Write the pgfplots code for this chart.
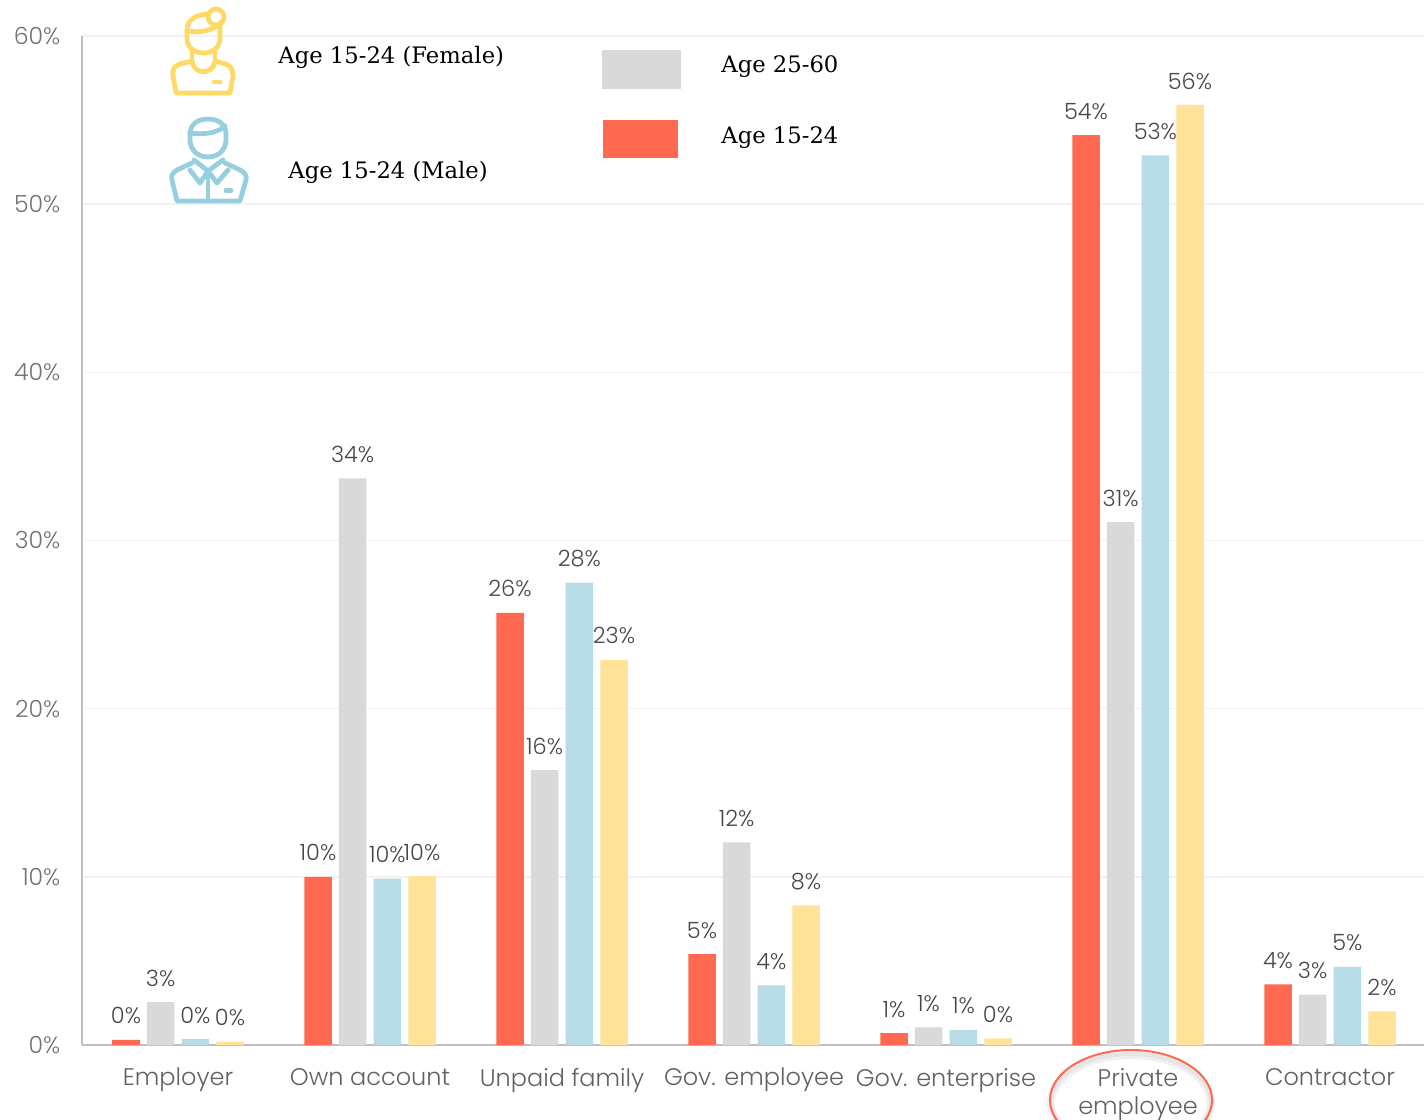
\documentclass[border=0pt]{standalone}
\usepackage{pgfplots}
\pgfplotsset{compat=1.18}
\usepackage{fontspec}
\setmainfont{Poppins}[UprightFont=* Light]
\newfontfamily\legfont{DejaVu Serif}
\definecolor{cred}{HTML}{FF6950}
\definecolor{cgray}{HTML}{D9D9D9}
\definecolor{cblue}{HTML}{B6DCE8}
\definecolor{cyel}{HTML}{FFE399}
\definecolor{iblue}{HTML}{96CFE0}
\definecolor{iyel}{HTML}{FFD966}
\begin{document}
\begin{tikzpicture}
\useasboundingbox (0,0) rectangle (712pt,-559.5pt);
\begin{axis}[
  at={(41pt,-522.5pt)},anchor=south west,
  scale only axis,width=671pt,height=504.5pt,
  xmin=-0.5,xmax=6.4896,ymin=0,ymax=60,
  axis lines=left,axis line style={draw=black!25,line width=1pt,-},
  ymajorgrids,grid style={draw=black!5,line width=0.8pt},
  ytick={0,10,20,30,40,50,60},
  yticklabel={\pgfmathprintnumber[assume math mode=true]{\tick}\%},
  yticklabel style={text=black!55,font=\fontsize{11.8}{12}\selectfont,xshift=-7.3pt},
  xtick={0,1,2,3,4,5,6},
  xticklabels={Employer,Own account,Unpaid family,Gov. employee,Gov. enterprise,Private\\employee,Contractor},
  xticklabel style={text=black!62,font=\fontsize{12}{14}\selectfont,align=center,anchor=north,yshift=-8pt},
  major tick length=0pt,
  ybar,
  bar width=13.75pt,
  nodes near coords={\pgfmathprintnumber[fixed,precision=0,assume math mode=true]{\pgfplotspointmeta}\%},
  nodes near coords style={text=black!72,font=\fontsize{11.2}{11}\selectfont,inner sep=0pt,anchor=center,yshift=12pt},
  every axis plot/.append style={draw=none},
]
\addplot[fill=cred,bar shift=-26pt] coordinates {(0,0.3)(1,10)(2,25.7)(3,5.4)(4,0.7)(5,54.1)(6,3.6)};
\addplot[fill=cgray,bar shift=-8.7pt] coordinates {(0,2.55)(1,33.7)(2,16.35)(3,12.05)(4,1.05)(5,31.1)(6,3.0)};
\addplot[fill=cblue,bar shift=8.7pt] coordinates {(0,0.35)(1,9.9)(2,27.5)(3,3.55)(4,0.9)(5,52.9)(6,4.65)};
\addplot[fill=cyel,bar shift=26pt] coordinates {(0,0.2)(1,10.05)(2,22.9)(3,8.3)(4,0.4)(5,55.9)(6,2.0)};
\end{axis}
\begin{scope}[x=0.5pt,y=-0.5pt]
% legend swatches
\fill[cgray] (602,50) rectangle (681,89);
\fill[cred] (603,120) rectangle (678,158);
\begin{scope}[every node/.style={anchor=west,inner sep=0pt,text=black,font=\legfont\fontsize{11.35}{12}\selectfont}]
\node at (278,57) {Age 15-24 (Female)};
\node at (288,172) {Age 15-24 (Male)};
\node at (721,67) {Age 25-60};
\node at (721,138) {Age 15-24};
\end{scope}
% female icon
\begin{scope}[line width=2.4pt,line cap=round,line join=round]
\draw[iyel] (216,17) circle (8);
\draw[iyel] (187,36) -- (187,30) .. controls (187,19) and (198,14) .. (209,14);
\draw[iyel] (220,24) -- (220,38) .. controls (220,48) and (212,53) .. (203.5,53) .. controls (195,53) and (187,48) .. (187,38);
\draw[iyel] (187,31) .. controls (200,33) and (214,31) .. (221,22);
\draw[iyel] (192,50) -- (192,60) (215,50) -- (215,60);
\draw[iyel] (192,62) .. controls (195,75) and (212,75) .. (215,62);
\draw[iyel] (192,61) -- (180,64) .. controls (174,66) and (172,70) .. (173,76) -- (176,93) -- (230,93) -- (233,76) .. controls (233,70) and (231,66) .. (226,64) -- (215,61);
\draw[iyel] (214,82) -- (220,82);
% male icon
\draw[iblue] (190,140) -- (190,134) .. controls (190,124) and (198,119) .. (208,119) .. controls (218,119) and (226,124) .. (226,134) -- (226,140) .. controls (226,150) and (218,157) .. (208,157) .. controls (198,157) and (190,150) .. (190,140);
\draw[iblue] (190,133) .. controls (203,135) and (218,133) .. (225,126);
\draw[iblue] (194,160) -- (208,171) -- (223,160);
\draw[iblue] (190,170) -- (200,183) -- (208,171) -- (217,183) -- (228,170);
\draw[iblue] (208,171) -- (208,201);
\draw[iblue] (192,163) -- (177,170) .. controls (172,173) and (171,176) .. (172,180) -- (177,201) -- (240,201) -- (246,180) .. controls (247,176) and (245,172) .. (240,170) -- (225,163);
\draw[iblue] (226,190.5) -- (231,190.5);
\end{scope}
% highlight ellipse on the Private employee label
\draw[black!6,line width=4pt] (1131,1103) ellipse (80 and 48);
\draw[black!10,line width=2pt] (1131,1102) ellipse (80 and 48);
\draw[cred,line width=1pt] (1131,1100) ellipse (81 and 50);
\end{scope}
\end{tikzpicture}
\end{document}
